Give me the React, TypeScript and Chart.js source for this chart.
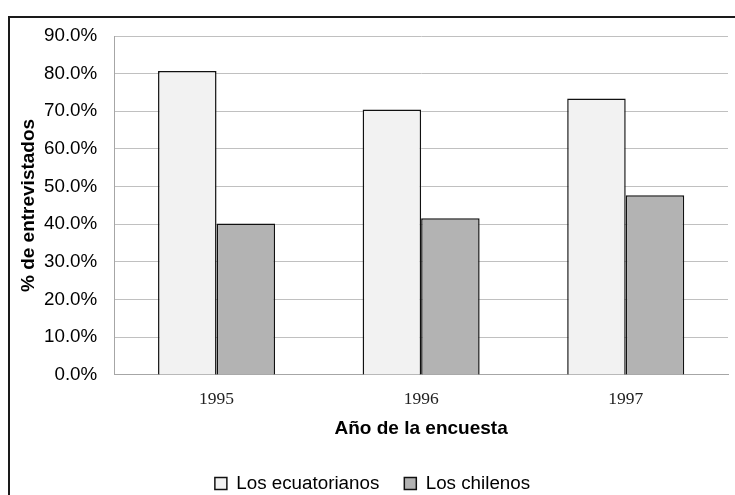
import React, { useEffect, useRef } from "react";
import { Chart, registerables } from "chart.js";

Chart.register(...registerables);

const years = ["1995", "1996", "1997"];
const seriesNames = ["Los ecuatorianos", "Los chilenos"];
const ecuatorianos = [80.7, 70.5, 73.4];
const chilenos = [40.2, 41.6, 47.7];
const yMin = 0;
const yMax = 90;
const yStep = 10;
const xTitle = "Año de la encuesta";
const yTitle = "% de entrevistados";

export default function App() {
  const ref = useRef<HTMLCanvasElement>(null);

  useEffect(() => {
    const sans = "'Liberation Sans', Arial, sans-serif";
    const serif = "'Liberation Serif', 'Times New Roman', serif";
    const chart = new Chart(ref.current as HTMLCanvasElement, {
      type: "bar",
      data: {
        labels: years,
        datasets: [
          {
            label: seriesNames[0],
            data: ecuatorianos,
            backgroundColor: "#f2f2f2",
            borderColor: "#111111",
            borderWidth: 1.5,
          },
          {
            label: seriesNames[1],
            data: chilenos,
            backgroundColor: "#b3b3b3",
            borderColor: "#111111",
            borderWidth: 1.5,
          },
        ],
      },
      options: {
        responsive: false,
        animation: false,
        datasets: {
          bar: { categoryPercentage: 0.572, barPercentage: 1 },
        },
        layout: { padding: { left: 7, right: 7, top: 18, bottom: 15 } },
        plugins: {
          tooltip: { enabled: false },
          legend: {
            position: "bottom",
            labels: {
              color: "#000",
              font: { family: sans, size: 18.8 },
              boxWidth: 12,
              boxHeight: 12,
              padding: 25,
            },
          },
        },
        scales: {
          x: {
            grid: { display: false, drawTicks: false },
            border: { display: true, color: "#a6a6a6", width: 1 },
            ticks: {
              color: "#222",
              font: { family: serif, size: 17.5 },
              padding: 14.5,
            },
            title: {
              display: true,
              text: xTitle,
              color: "#000",
              font: { family: sans, size: 19, weight: "bold" },
              padding: { top: -7.5, bottom: 9 },
            },
          },
          y: {
            min: yMin,
            max: yMax,
            ticks: {
              stepSize: yStep,
              color: "#000",
              font: { family: sans, size: 18.8 },
              padding: 0,
              callback: (v: any) => Number(v).toFixed(1) + "%",
            },
            grid: {
              color: "#c0c0c0",
              lineWidth: 1,
              drawTicks: true,
              tickLength: 17,
              tickColor: "rgba(0,0,0,0)",
            },
            border: { display: true, color: "#a6a6a6", width: 1 },
            title: {
              display: true,
              text: yTitle,
              color: "#000",
              font: { family: sans, size: 19, weight: "bold" },
              padding: { top: 0, bottom: 4.2 },
            },
          },
        },
      },
    });
    return () => chart.destroy();
  }, []);

  return (
    <div
      style={{
        position: "absolute",
        left: 8,
        top: 16,
        width: 727,
        height: 479,
        boxSizing: "border-box",
        borderLeft: "2px solid #1a1a1a",
        borderTop: "2px solid #1a1a1a",
        overflow: "hidden",
        background: "#fff",
      }}
    >
      <canvas ref={ref} width={725} height={500} style={{ display: "block" }} />
    </div>
  );
}
